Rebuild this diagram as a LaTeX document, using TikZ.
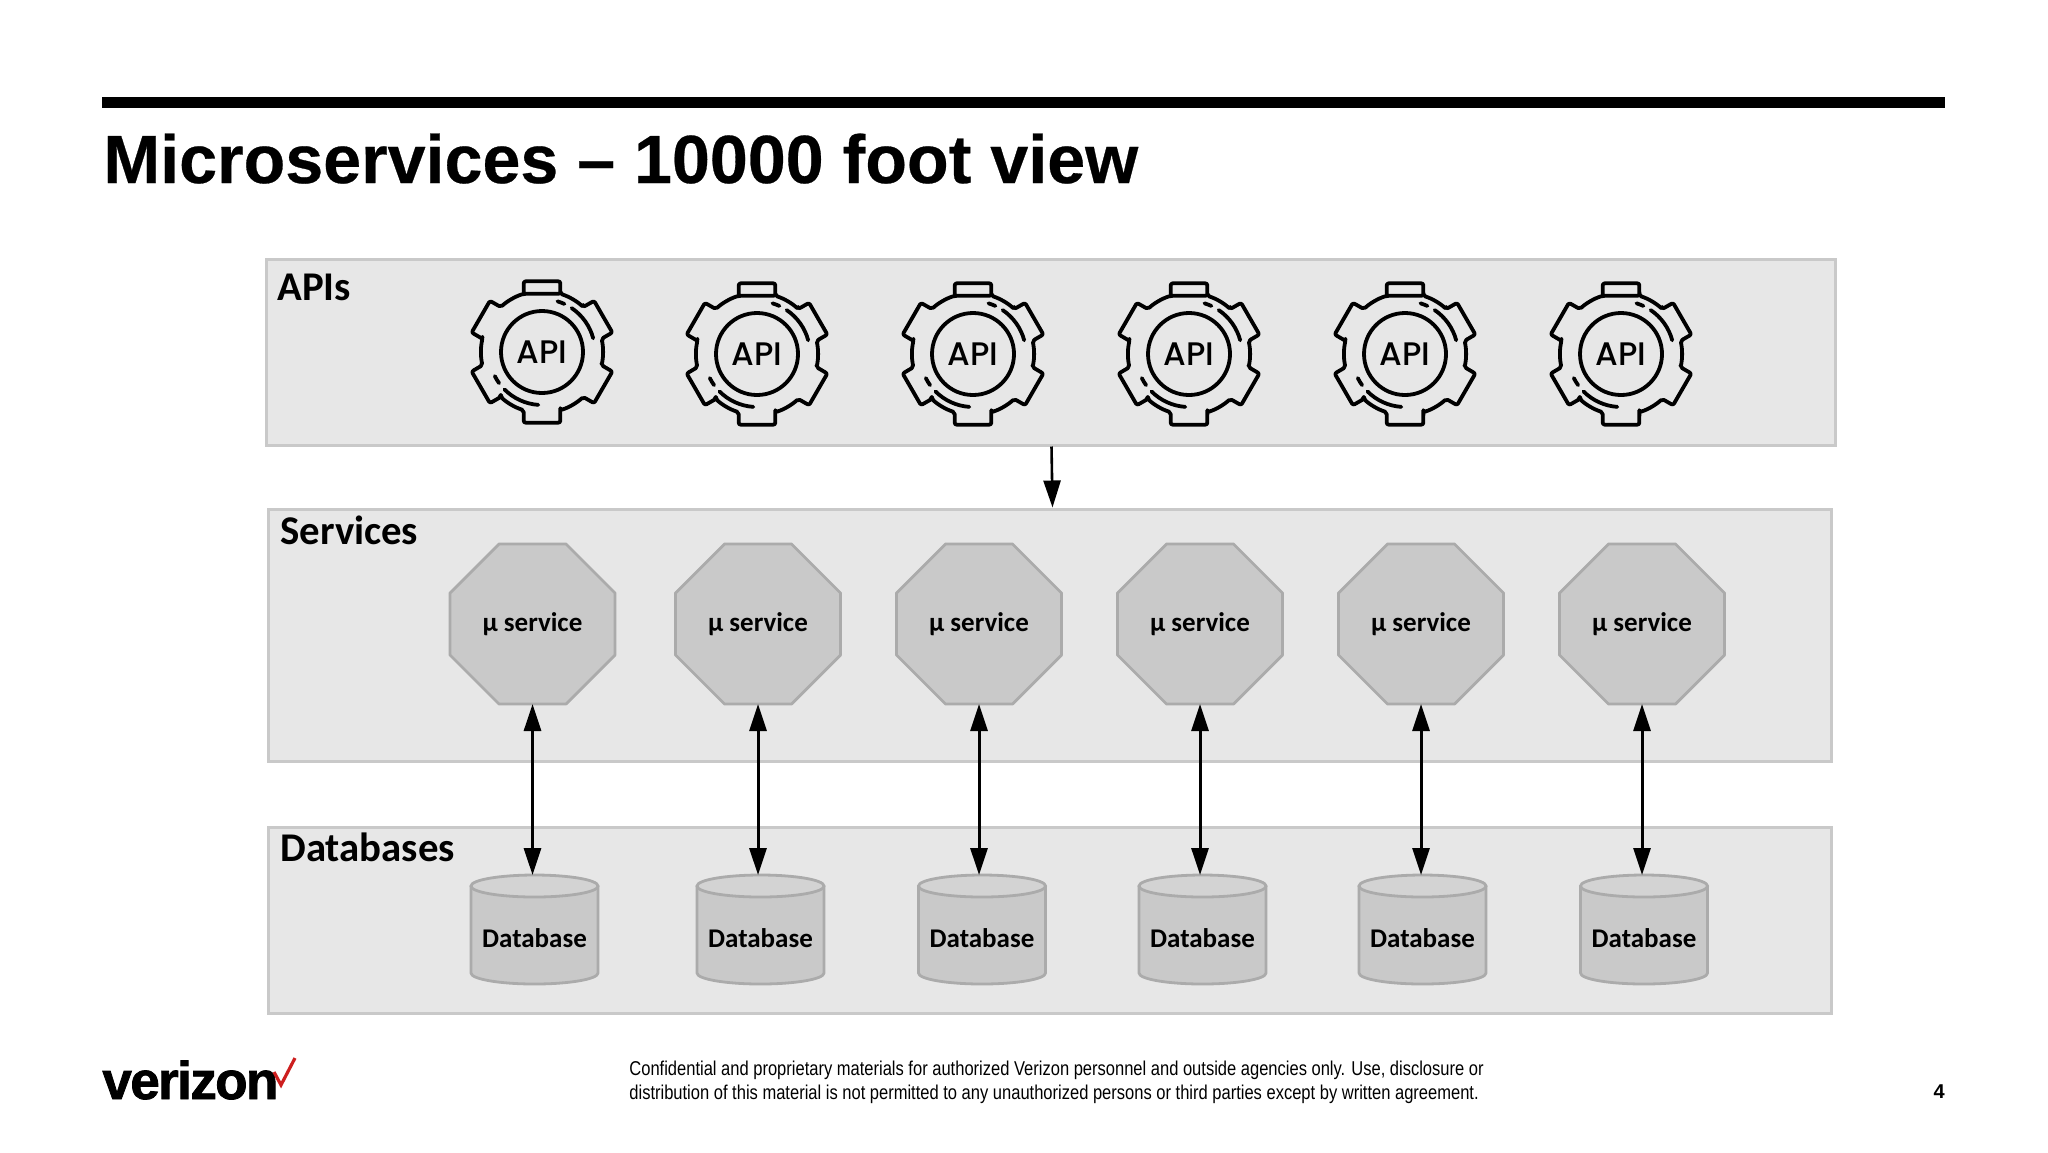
\documentclass[tikz,border=0pt]{standalone}
\usepackage{fontspec}
\setmainfont{Liberation Sans}
\newfontfamily\carl{Carlito}
\newfontfamily\popp{Poppins Medium}
\newfontfamily\narrowf[FakeStretch=0.826]{Liberation Sans}
\newfontfamily\vzf[LetterSpace=-3,FakeBold=1.5]{Liberation Sans}
\newfontfamily\titlef[FakeBold=0.4]{Liberation Sans}
\usetikzlibrary{arrows.meta,calc}
\definecolor{panelfill}{HTML}{E7E7E7}
\definecolor{panelline}{HTML}{C9C9C9}
\definecolor{shapefill}{HTML}{C9C9C9}
\definecolor{shapeline}{HTML}{ABABAB}
\definecolor{capfill}{HTML}{D3D3D3}
\definecolor{vzred}{HTML}{CD1F1F}
\tikzset{
  panel/.style={draw=panelline,fill=panelfill,line width=1.5pt,inner sep=0pt,rectangle},
  paneltitle/.style={anchor=base west,inner sep=0pt,font=\carl\bfseries\fontsize{20.4}{24}\selectfont},
  octabox/.style={rectangle,minimum width=82.5pt,minimum height=80pt,inner sep=0pt,outer sep=0pt,font=\carl\bfseries\fontsize{13.5}{16}\selectfont},
  octaline/.style={draw=shapeline,fill=shapefill,line width=1.4pt,line join=round},
  dbbox/.style={rectangle,minimum width=63.5pt,minimum height=54.5pt,inner sep=0pt,outer sep=0pt},
  dbbody/.style={draw=shapeline,fill=shapefill,line width=1.4pt,line join=round},
  dbcap/.style={draw=shapeline,fill=capfill,line width=1.4pt},
  dblabel/.style={inner sep=0pt,font=\carl\bfseries\fontsize{13.5}{16}\selectfont},
  gearline/.style={line width=1.9pt,draw=black,line cap=round,line join=round},
  gearapi/.style={inner sep=0pt,font=\popp\fontsize{16.3}{18}\selectfont},
  flow/.style={line width=1.5pt,draw=black,{Triangle[width=8.5pt,length=13.5pt]}-{Triangle[width=8.5pt,length=13.5pt]}},
  flowone/.style={line width=1.3pt,draw=black,-{Triangle[width=8.5pt,length=13.5pt]}},
  footnote/.style={anchor=base west,inner sep=0pt,font=\narrowf\fontsize{10}{12}\selectfont}
}
\begin{document}
\begin{tikzpicture}[x=0.5pt,y=0.5pt]
\useasboundingbox (0,0) rectangle (2048,-1152);
\fill[white] (0,0) rectangle (2048,-1152);
% header
\fill[black] (102,-97) rectangle (1945,-108);
\node[anchor=base west,inner sep=0pt,font=\titlef\bfseries\fontsize{34.1}{40}\selectfont] (title) at (103,-183) {Microservices – 10000 foot view};
% panels
\node[panel,minimum width=784.5pt,minimum height=93pt] (apis) at (1050.5,-352) {};
\node[panel,minimum width=781.5pt,minimum height=126pt] (services) at (1049.5,-635) {};
\node[panel,minimum width=781.5pt,minimum height=93pt] (databases) at (1049.5,-920) {};
\node[paneltitle] (apist) at (277,-300) {APIs};
\node[paneltitle] (servicest) at (280,-544) {Services};
\node[paneltitle] (databasest) at (280,-861) {Databases};
% gears
\foreach \i/\cx/\cy in {1/542/352,2/757/354,3/973/354,4/1189/354,5/1405/354,6/1621/354}{
  \begin{scope}[shift={(\cx,-\cy)}]
    \draw[gearline,rounded corners=1pt] (72.5:61)
      foreach \a in {90,30,-30,-90,-150,-210}{
        -- ({\a+17.5}:61) -- ({\a+14.5}:73) -- ({\a-14.5}:73) -- ({\a-17.5}:61)
        arc[start angle={\a-17.5},end angle={\a-42.5},radius=61]
      } -- cycle;
    \draw[gearline] (0,0) circle[radius=41];
    \draw[gearline] (15:53) arc[start angle=15,end angle=56,radius=53];
    \draw[gearline] (65:53) arc[start angle=65,end angle=73,radius=53];
    \draw[gearline] (225:53) arc[start angle=225,end angle=266,radius=53];
    \draw[gearline] (207:53) arc[start angle=207,end angle=216,radius=53];
    \node[gearapi] (gear\i) at (0,0) {API};
  \end{scope}
}
% services and databases
\foreach \i/\ox/\dx in {1/532.5/534.5,2/758/760.5,3/979/982,4/1200/1202.5,5/1421/1422.5,6/1642/1644}{
  % octagon outline behind its text node
  \path (\ox,-624) node[octabox] (octb\i) {};
  \draw[octaline] ($(octb\i.north west)+(49,0)$) -- ($(octb\i.north east)+(-49,0)$)
     -- ($(octb\i.north east)+(0,-49)$) -- ($(octb\i.south east)+(0,49)$)
     -- ($(octb\i.south east)+(-49,0)$) -- ($(octb\i.south west)+(49,0)$)
     -- ($(octb\i.south west)+(0,49)$) -- ($(octb\i.north west)+(0,-49)$) -- cycle;
  \node[octabox] (oct\i) at (\ox,-624) {µ service};
  % cylinder
  \path (\dx,-929.5) node[dbbox] (db\i) {};
  \draw[dbbody] ($(db\i.north west)+(0,-11)$) -- ($(db\i.south west)+(0,11)$)
     arc[start angle=180,end angle=360,x radius=63.5,y radius=11]
     -- ($(db\i.north east)+(0,-11)$) -- cycle;
  \draw[dbcap] ($(db\i.north)+(0,-11)$) ellipse[x radius=63.5,y radius=11];
  \node[dblabel] (dbt\i) at (\dx,-938) {Database};
  \draw[flow] (oct\i.south) -- (oct\i.south |- db\i.north);
}
\draw[flowone] ([xshift=0.5pt]apis.south) -- ([xshift=1.5pt]services.north);
% footer
\node[anchor=base west,inner sep=0pt,font=\vzf\bfseries\fontsize{26.5}{30}\selectfont] (logo) at (102,-1099) {verizon};
\coordinate (tick1) at (274,-1072);
\coordinate (tick2) at (281,-1085);
\coordinate (tick3) at (295,-1058);
\draw[vzred,line width=1.6pt,line join=miter] (tick1) -- (tick2) -- (tick3);
\node[footnote] (foot1) at (629,-1075) {Confidential and proprietary materials for authorized Verizon personnel and outside agencies only. Use, disclosure or};
\node[footnote] (foot2) at (629,-1099) {distribution of this material is not permitted to any unauthorized persons or third parties except by written agreement.};
\node[anchor=base east,inner sep=0pt,font=\bfseries\fontsize{10}{12}\selectfont] (pageno) at (1945,-1098) {4};
\end{tikzpicture}
\end{document}
